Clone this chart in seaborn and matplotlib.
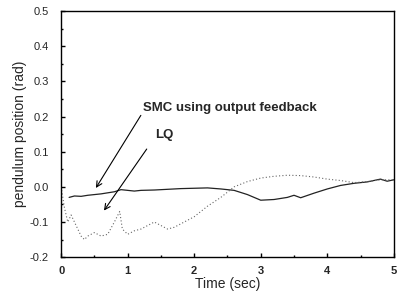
import matplotlib
matplotlib.use("Agg")
import matplotlib.pyplot as plt
import seaborn as sns
import pandas as pd
from matplotlib.ticker import MultipleLocator

smc_t = [0.12, 0.2, 0.3, 0.4, 0.5, 0.6, 0.7, 0.8, 0.9, 1.0, 1.1, 1.2, 1.4, 1.6, 1.8, 2.0,
         2.2, 2.4, 2.6, 2.8, 3.0, 3.2, 3.4, 3.5, 3.6, 3.8, 4.0, 4.2, 4.4, 4.6, 4.7, 4.8, 4.9, 5.0]
smc_y = [-0.030, -0.026, -0.027, -0.024, -0.022, -0.020, -0.017, -0.014, -0.008, -0.010,
         -0.012, -0.010, -0.009, -0.007, -0.005, -0.004, -0.003, -0.006, -0.010, -0.022,
         -0.038, -0.036, -0.030, -0.024, -0.031, -0.018, -0.006, 0.004, 0.010, 0.014,
         0.018, 0.022, 0.016, 0.020]

lq_t = [0.0, 0.05, 0.1, 0.15, 0.2, 0.3, 0.35, 0.4, 0.5, 0.6, 0.7, 0.8, 0.88, 0.92, 1.0,
        1.1, 1.2, 1.3, 1.4, 1.5, 1.6, 1.7, 1.8, 1.9, 2.0, 2.1, 2.2, 2.4, 2.6, 2.8, 3.0,
        3.2, 3.4, 3.6, 3.8, 4.0, 4.2, 4.4, 4.6, 4.8, 5.0]
lq_y = [0.0, -0.06, -0.10, -0.08, -0.10, -0.14, -0.15, -0.14, -0.13, -0.14, -0.135, -0.10,
        -0.07, -0.12, -0.135, -0.125, -0.12, -0.11, -0.10, -0.11, -0.12, -0.115, -0.105,
        -0.095, -0.085, -0.07, -0.055, -0.03, 0.00, 0.015, 0.025, 0.03, 0.033, 0.032,
        0.028, 0.022, 0.018, 0.012, 0.015, 0.02, 0.02]

x_ticks = [0, 1, 2, 3, 4, 5]
y_ticks = [-0.2, -0.1, 0.0, 0.1, 0.2, 0.3, 0.4, 0.5]

sns.set_style("ticks")
plt.rcParams['font.family'] = ['Liberation Sans', 'DejaVu Sans']

fig = plt.figure(figsize=(3.97, 2.98), dpi=100)
ax = fig.add_axes([0.154, 0.137, 0.838, 0.826])

smc = pd.DataFrame({"t": smc_t, "y": smc_y})
lq = pd.DataFrame({"t": lq_t, "y": lq_y})
sns.lineplot(data=smc, x="t", y="y", ax=ax, color="#222222", lw=0.9)
sns.lineplot(data=lq, x="t", y="y", ax=ax, color="#666666", lw=0.8, linestyle=(0, (1, 2)))

ax.set_xlim(0, 5)
ax.set_ylim(-0.2, 0.5)
ax.set_xticks(x_ticks)
ax.set_yticks(y_ticks)
ax.set_xticklabels([str(v) for v in x_ticks], fontsize=8, fontweight='bold')
ax.set_yticklabels([f"{v:.1f}" for v in y_ticks], fontsize=8)
ax.xaxis.set_minor_locator(MultipleLocator(0.5))
ax.yaxis.set_minor_locator(MultipleLocator(0.05))
ax.tick_params(which='both', direction='in', width=1, color='black')
ax.tick_params(which='major', length=3)
ax.tick_params(axis='y', which='major', pad=9)
ax.tick_params(axis='x', which='major', pad=6)
ax.tick_params(which='minor', length=1.5)
for s in ax.spines.values():
    s.set_linewidth(1.0)
    s.set_color('black')

ax.set_xlabel("Time (sec)", fontsize=10, labelpad=1)
ax.set_ylabel("pendulum position (rad)", fontsize=10, labelpad=2)

ax.annotate("", xy=(0.50, -0.01), xytext=(1.22, 0.21),
            arrowprops=dict(arrowstyle="->", color="black", lw=0.8))
ax.annotate("", xy=(0.62, -0.074), xytext=(1.31, 0.114),
            arrowprops=dict(arrowstyle="->", color="black", lw=0.8))
ax.text(1.23, 0.224, "SMC using output feedback", fontsize=9.5, fontweight='bold', va='center', ha='left')
ax.text(1.41, 0.148, "LQ", fontsize=9.5, fontweight='bold', va='center', ha='left')

fig.savefig("out.png", dpi=100)
